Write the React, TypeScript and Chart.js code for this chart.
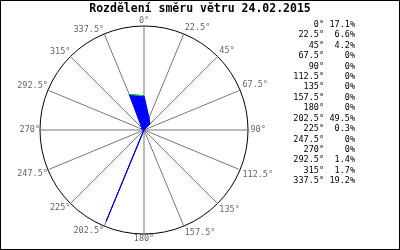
import React, { useEffect, useRef } from "react";
import { Chart, registerables } from "chart.js";

Chart.register(...registerables);

const TITLE = "Rozdělení směru větru 24.02.2015";
const DIRECTIONS = ["0°", "22.5°", "45°", "67.5°", "90°", "112.5°", "135°", "157.5°", "180°", "202.5°", "225°", "247.5°", "270°", "292.5°", "315°", "337.5°"];
const SHARES = [17.1, 6.6, 4.2, 0, 0, 0, 0, 0, 0, 49.5, 0.3, 0, 0, 1.4, 1.7, 19.2];
const SHARE_LABELS = ["17.1%", "6.6%", "4.2%", "0%", "0%", "0%", "0%", "0%", "0%", "49.5%", "0.3%", "0%", "0%", "1.4%", "1.7%", "19.2%"];
const EDGE = [17.1, null, null, null, null, null, null, null, null, null, null, null, null, null, null, 19.2];
const SCALE_MAX = 52;

const FONT = "'DejaVu Sans Mono', monospace";

const decorPlugin = {
  id: "decor",
  afterDraw(chart: any) {
    const ctx = chart.ctx;
    ctx.save();
    ctx.fillStyle = "#000";
    ctx.font = `bold 11.5px ${FONT}`;
    ctx.textAlign = "center";
    ctx.textBaseline = "middle";
    ctx.fillText(TITLE, 200, 9);
    ctx.font = `8.5px ${FONT}`;
    for (let i = 0; i < DIRECTIONS.length; i++) {
      const y = 24.7 + i * 10.43;
      ctx.textAlign = "right";
      ctx.fillText(DIRECTIONS[i], 324, y);
      ctx.fillText(SHARE_LABELS[i], 355, y);
    }
    ctx.strokeStyle = "#000";
    ctx.lineWidth = 1;
    ctx.strokeRect(0.5, 0.5, 399, 249);
    ctx.restore();
  },
};

export default function App() {
  const ref = useRef<HTMLCanvasElement>(null);
  useEffect(() => {
    if (!ref.current) return;
    const chart = new Chart(ref.current, {
      type: "radar",
      data: {
        labels: DIRECTIONS,
        datasets: [
          {
            data: EDGE,
            borderColor: "#00dd00",
            backgroundColor: "#00dd00",
            borderWidth: 1,
            pointRadius: 0,
            fill: false,
            spanGaps: false,
          },
          {
            data: SHARES,
            backgroundColor: "#0000ff",
            borderColor: "#0000ff",
            borderWidth: 1,
            pointRadius: 0,
            fill: true,
          },
        ],
      },
      options: {
        responsive: false,
        animation: false,
        layout: { padding: { left: 0, right: 112, top: 16.5, bottom: 6.5 } },
        plugins: { legend: { display: false }, title: { display: false }, tooltip: { enabled: false } },
        scales: {
          r: {
            min: 0,
            max: SCALE_MAX,
            ticks: { display: false, stepSize: SCALE_MAX },
            grid: { color: "#000", lineWidth: 1, circular: true },
            angleLines: { color: "#777", lineWidth: 1 },
            pointLabels: {
              color: "#666",
              font: { family: FONT, size: 8.5, lineHeight: 1 },
              padding: (c: any) => (c.index > 0 && c.index < 8 ? 2.5 : c.index > 8 ? 0 : 1),
            },
          },
        },
      },
      plugins: [decorPlugin],
    });
    return () => chart.destroy();
  }, []);
  return (
    <div style={{ position: "absolute", left: 0, top: 0, width: 400, height: 250, background: "#fff" }}>
      <canvas ref={ref} width={400} height={250} />
    </div>
  );
}
